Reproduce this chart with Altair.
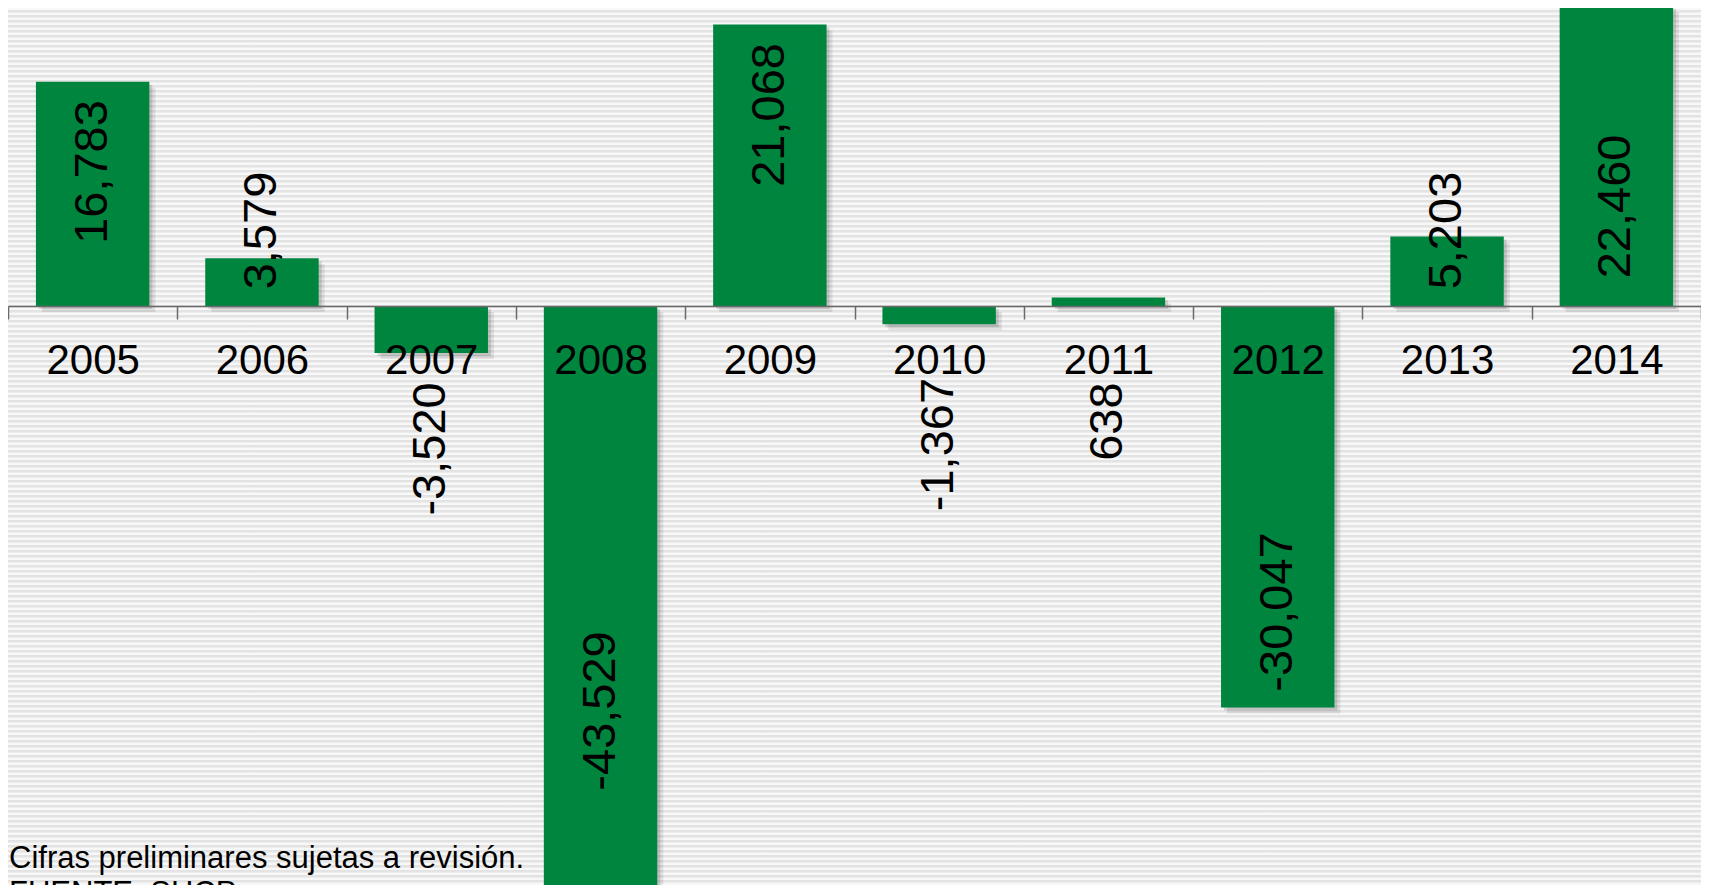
import altair as alt
import pandas as pd

# ---- data ----
years = ["2005", "2006", "2007", "2008", "2009", "2010", "2011", "2012", "2013", "2014"]
values = [16783, 3579, -3520, -43529, 21068, -1367, 638, -30047, 5203, 22460]
value_labels = ["16,783", "3,579", "-3,520", "-43,529", "21,068", "-1,367", "638", "-30,047", "5,203", "22,460"]
# where each (manually placed) data label is centred, in data units
label_center = [10030, 5650, -10700, -30310, 14300, -10370, -8650, -22900, 5650, 7450]
notes = ["Cifras preliminares sujetas a revisión.", "FUENTE: SHCP"]

W, H = 1693, 877
Y_DOMAIN = [-43338, 22305]
GREEN = "#00853F"
FONT = "Liberation Sans"

df = pd.DataFrame({"year": years, "value": values, "label": value_labels, "label_pos": label_center})

# striped background (decoration only)
PERIOD = 5.0
stops = []
n = int(H / PERIOD) + 1
for i in range(n):
    b = i * PERIOD
    for off, col in [(0.0, "#f8f8f8"), (1.6, "#f8f8f8"), (2.4, "#e2e2e2"), (4.2, "#e5e5e5")]:
        o = (b + off) / H
        if o <= 1:
            stops.append(alt.GradientStop(offset=o, color=col))
stripes = alt.Chart(alt.Data(values=[{}])).mark_rect(
    fill=alt.LinearGradient(gradient="linear", stops=stops, x1=0, x2=0, y1=0, y2=1)
).encode(x=alt.value(0), x2=alt.value(W), y=alt.value(0), y2=alt.value(H))

x_enc = alt.X(
    "year:N", sort=years,
    scale=alt.Scale(paddingInner=0, paddingOuter=0),
    axis=alt.Axis(
        title=None, labelAngle=0, labelFontSize=42, labelFont=FONT, labelColor="black",
        labelPadding=21, tickSize=13, tickColor="#6a6a6a", tickWidth=1.5,
        domainColor="#6a6a6a", domainWidth=1.5, tickBand="extent",
        offset=-(H - 298), zindex=1, grid=False, labelOverlap=False,
    ),
)
y_enc = alt.Y("value:Q", scale=alt.Scale(domain=Y_DOMAIN, nice=False, zero=False), axis=None)

base = alt.Chart(df)
shadow1 = base.mark_bar(color="#000000", opacity=0.09, xOffset=6, yOffset=6, y2Offset=6,
                        width=alt.RelativeBandSize(0.67)).encode(x=x_enc, y=y_enc, y2=alt.datum(0))
shadow2 = base.mark_bar(color="#000000", opacity=0.13, xOffset=3, yOffset=3, y2Offset=3,
                        width=alt.RelativeBandSize(0.67)).encode(x=x_enc, y=y_enc, y2=alt.datum(0))
bars = base.mark_bar(color=GREEN, width=alt.RelativeBandSize(0.67)).encode(
    x=x_enc, y=y_enc, y2=alt.datum(0))
labels = base.mark_text(angle=270, align="center", baseline="middle", fontSize=47,
                        font=FONT, color="black").encode(
    x=x_enc,
    y=alt.Y("label_pos:Q", scale=alt.Scale(domain=Y_DOMAIN, nice=False, zero=False), axis=None),
    text="label:N",
)
footnote = alt.Chart(alt.Data(values=[{}])).mark_text(
    text=notes, align="left", baseline="alphabetic", fontSize=31, font=FONT,
    color="black", lineHeight=35,
).encode(x=alt.value(1), y=alt.value(860))

chart = alt.layer(stripes, shadow1, shadow2, bars, labels, footnote).properties(
    width=W, height=H, autosize=alt.AutoSizeParams(type="none"), padding=0,
    background="#f2f2f2",
).configure_view(stroke=None)

chart.save("out.html", embed_options={"renderer": "svg", "actions": False})
